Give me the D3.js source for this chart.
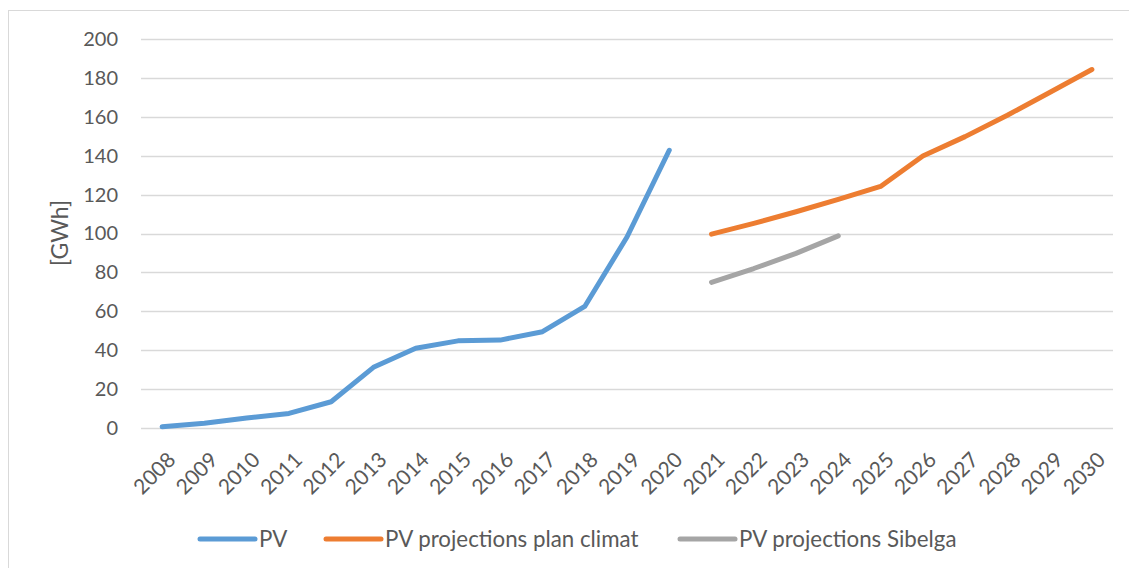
<!DOCTYPE html>
<html lang="en">
<head>
<meta charset="UTF-8">
<title>PV production and projections</title>
<script src="https://d3js.org/d3.v7.min.js"></script>
<style>
body { margin: 0; background: white; }
#chart svg { display: block; background: white; }
.axis text { font-family: Lato, sans-serif; font-size: 20px; fill: #595959; }
.x-axis text { font-size: 21px; }
.axis path, .axis line { stroke: none; }
.grid line { stroke: #d9d9d9; stroke-width: 1.3px; }
.legend text { font-family: Lato, sans-serif; font-size: 22.3px; fill: #595959; }
.series { fill: none; stroke-width: 5px; stroke-linecap: round; stroke-linejoin: round; }
</style>
</head>
<body>
<div id="chart"></div>
<script>
// ---------- data ----------
const years = ["2008","2009","2010","2011","2012","2013","2014","2015","2016","2017","2018","2019",
  "2020","2021","2022","2023","2024","2025","2026","2027","2028","2029","2030"];

const pvYears = ["2008","2009","2010","2011","2012","2013","2014","2015","2016","2017","2018","2019","2020"];
const pvValues = [0.6, 2.4, 5.1, 7.5, 13.5, 31.2, 41, 44.8, 45.2, 49.5, 62.5, 98.2, 142.8];

const climatYears = ["2021","2022","2023","2024","2025","2026","2027","2028","2029","2030"];
const climatValues = [99.7, 105.2, 111.2, 117.5, 124.2, 139.8, 149.8, 160.8, 172.5, 184.3];

const sibelgaYears = ["2021","2022","2023","2024"];
const sibelgaValues = [74.9, 82, 89.8, 98.8];

const yTicks = [0, 20, 40, 60, 80, 100, 120, 140, 160, 180, 200];

const seriesNames = ["PV", "PV projections plan climat", "PV projections Sibelga"];
const seriesColors = ["#5b9bd5", "#ed7d31", "#a5a5a5"];

// ---------- size ----------
const totalWidth = 1129, totalHeight = 568;
const margin = {top: 39, right: 16, bottom: 140, left: 141};

const svg = d3.select("#chart").append("svg")
  .attr("width", totalWidth)
  .attr("height", totalHeight);

// chart frame
svg.append("rect")
  .attr("x", 8.5).attr("y", 10.5)
  .attr("width", 1140).attr("height", 600)
  .attr("fill", "none").attr("stroke", "#d9d9d9").attr("stroke-width", 1);

// ---------- scales ----------
const x = d3.scalePoint()
  .domain(years)
  .range([margin.left, totalWidth - margin.right])
  .padding(0.5);

const y = d3.scaleLinear()
  .domain([0, 200])
  .range([totalHeight - margin.bottom, margin.top]);

// gridlines
svg.append("g")
  .attr("class", "grid")
  .selectAll("line")
  .data(yTicks)
  .join("line")
  .attr("x1", margin.left)
  .attr("x2", totalWidth - margin.right)
  .attr("y1", d => Math.round(y(d)) + 0.5)
  .attr("y2", d => Math.round(y(d)) + 0.5);

// y axis
svg.append("g")
  .attr("class", "axis")
  .attr("transform", `translate(${margin.left - 2},0)`)
  .call(d3.axisLeft(y).tickValues(yTicks).tickSize(0).tickPadding(21));

// x axis
const xAxis = svg.append("g")
  .attr("class", "axis x-axis")
  .attr("transform", `translate(0,${y(0)})`)
  .call(d3.axisBottom(x).tickSize(0));

xAxis.selectAll("text")
  .attr("text-anchor", "end")
  .attr("dy", "0.35em")
  .attr("y", 0)
  .attr("transform", "translate(9,28) rotate(-45)");

// y label
svg.append("text")
  .attr("transform", "translate(60,233) rotate(-90)")
  .attr("text-anchor", "middle")
  .attr("dy", "0.35em")
  .style("font-family", "Lato, sans-serif")
  .style("font-size", "23px")
  .style("fill", "#595959")
  .text("[GWh]");

// ---------- lines ----------
const line = d3.line()
  .x(d => x(d[0]))
  .y(d => y(d[1]));

const seriesData = [
  d3.zip(pvYears, pvValues),
  d3.zip(climatYears, climatValues),
  d3.zip(sibelgaYears, sibelgaValues)
];

svg.selectAll(".series")
  .data(seriesData)
  .join("path")
  .attr("class", "series")
  .attr("stroke", (d, i) => seriesColors[i])
  .attr("d", line);

// ---------- legend ----------
const legendX = [200, 326, 680];
const legend = svg.append("g")
  .attr("class", "legend")
  .attr("transform", "translate(0,539)");

const items = legend.selectAll("g")
  .data(seriesNames)
  .join("g")
  .attr("transform", (d, i) => `translate(${legendX[i]},0)`);

items.append("line")
  .attr("x1", 0).attr("x2", 55)
  .attr("stroke", (d, i) => seriesColors[i])
  .attr("stroke-width", 5)
  .attr("stroke-linecap", "round");

items.append("text")
  .attr("x", 59)
  .attr("dy", "0.35em")
  .text(d => d);
</script>
</body>
</html>
